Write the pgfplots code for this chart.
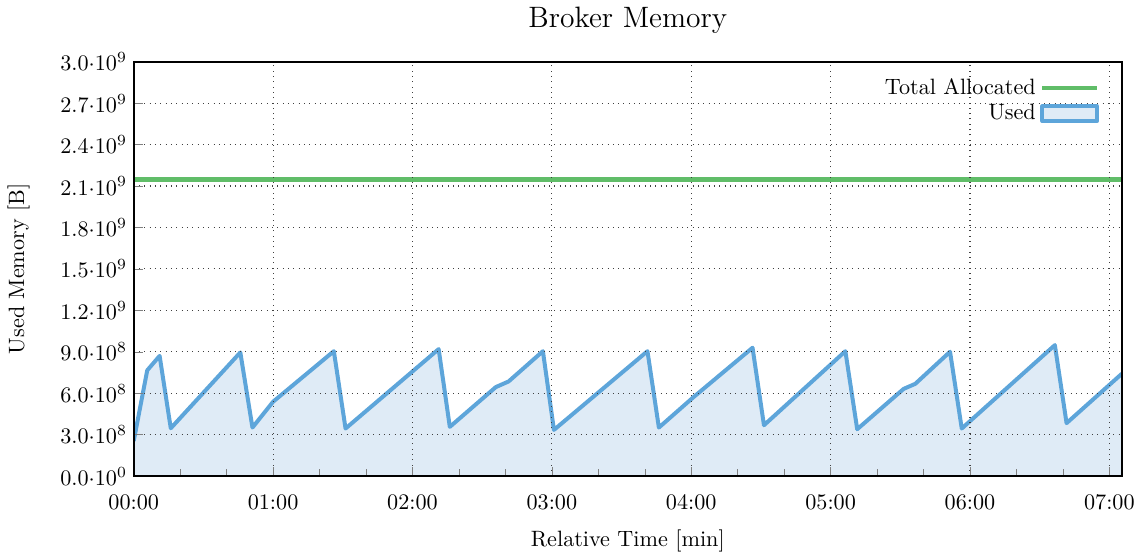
\documentclass[border=0pt]{standalone}
\usepackage{pgfplots}
\pgfplotsset{compat=1.18}
\definecolor{usedblue}{HTML}{5DA5DA}
\definecolor{usedfill}{HTML}{DFEBF6}
\definecolor{allocgreen}{HTML}{60BD68}
\begin{document}
\begin{tikzpicture}
\begin{axis}[
  scale only axis,
  width=445.5pt, height=186.8pt,
  xmin=0, xmax=7.09,
  ymin=0, ymax=3.0e9,
  scaled y ticks=false,
  xtick={0,1,2,3,4,5,6,7},
  xticklabels={00:00,01:00,02:00,03:00,04:00,05:00,06:00,07:00},
  minor x tick num=2,
  ytick={0,0.3e9,0.6e9,0.9e9,1.2e9,1.5e9,1.8e9,2.1e9,2.4e9,2.7e9,3.0e9},
  yticklabels={$0.0{\cdot}10^{0}$,$3.0{\cdot}10^{8}$,$6.0{\cdot}10^{8}$,$9.0{\cdot}10^{8}$,$1.2{\cdot}10^{9}$,$1.5{\cdot}10^{9}$,$1.8{\cdot}10^{9}$,$2.1{\cdot}10^{9}$,$2.4{\cdot}10^{9}$,$2.7{\cdot}10^{9}$,$3.0{\cdot}10^{9}$},
  xticklabel style={yshift=-5pt},
  yticklabel style={xshift=0.5pt},
  xtick pos=bottom, ytick pos=left,
  tick align=inside,
  major tick length=4pt, minor tick length=3pt,
  grid=major,
  major grid style={dotted, black!75, line width=0.5pt},
  axis line style={black, line width=0.8pt},
  axis on top,
  xlabel={Relative Time [min]},
  xlabel style={yshift=-2pt},
  ylabel={Used Memory [B]},
  ylabel shift=7pt,
  title={Broker Memory},
  title style={font=\fontsize{13.3}{16}\selectfont, yshift=3pt},
  legend style={draw=none, fill=none, at={(0.984,0.982)}, anchor=north east, row sep=-1pt},
  legend plot pos=right,
  legend cell align=right,
]
\addplot[allocgreen, line width=2pt, legend image code/.code={\draw[allocgreen, line width=2pt] (0cm,0cm) -- (0.86cm,0cm);}] coordinates {(0,2147483648) (7.09,2147483648)};
\addlegendentry{Total Allocated}
\addplot[fill=usedfill, draw=none, forget plot] coordinates {
(0,0.253e9) (0.097,0.765e9) (0.186,0.870e9) (0.266,0.346e9) (0.765,0.895e9)
(0.852,0.351e9) (1.0,0.538e9) (1.436,0.904e9) (1.52,0.344e9) (2.188,0.919e9)
(2.268,0.356e9) (2.598,0.644e9) (2.69,0.685e9) (2.936,0.904e9) (3.015,0.334e9)
(3.686,0.904e9) (3.768,0.351e9) (4.016,0.571e9) (4.44,0.929e9) (4.522,0.368e9)
(5.106,0.904e9) (5.191,0.339e9) (5.524,0.631e9) (5.608,0.668e9) (5.857,0.900e9)
(5.941,0.344e9) (6.609,0.948e9) (6.693,0.383e9) (7.09,0.741e9)
} \closedcycle;
\addplot[usedblue, line width=1.8pt, line join=round, legend image code/.code={\draw[usedblue, fill=usedfill, line width=1.8pt] (0cm,-0.12cm) rectangle (0.86cm,0.12cm);}] coordinates {
(0,0.253e9) (0.097,0.765e9) (0.186,0.870e9) (0.266,0.346e9) (0.765,0.895e9)
(0.852,0.351e9) (1.0,0.538e9) (1.436,0.904e9) (1.52,0.344e9) (2.188,0.919e9)
(2.268,0.356e9) (2.598,0.644e9) (2.69,0.685e9) (2.936,0.904e9) (3.015,0.334e9)
(3.686,0.904e9) (3.768,0.351e9) (4.016,0.571e9) (4.44,0.929e9) (4.522,0.368e9)
(5.106,0.904e9) (5.191,0.339e9) (5.524,0.631e9) (5.608,0.668e9) (5.857,0.900e9)
(5.941,0.344e9) (6.609,0.948e9) (6.693,0.383e9) (7.09,0.741e9)
};
\addlegendentry{Used}
\end{axis}
\end{tikzpicture}
\end{document}
